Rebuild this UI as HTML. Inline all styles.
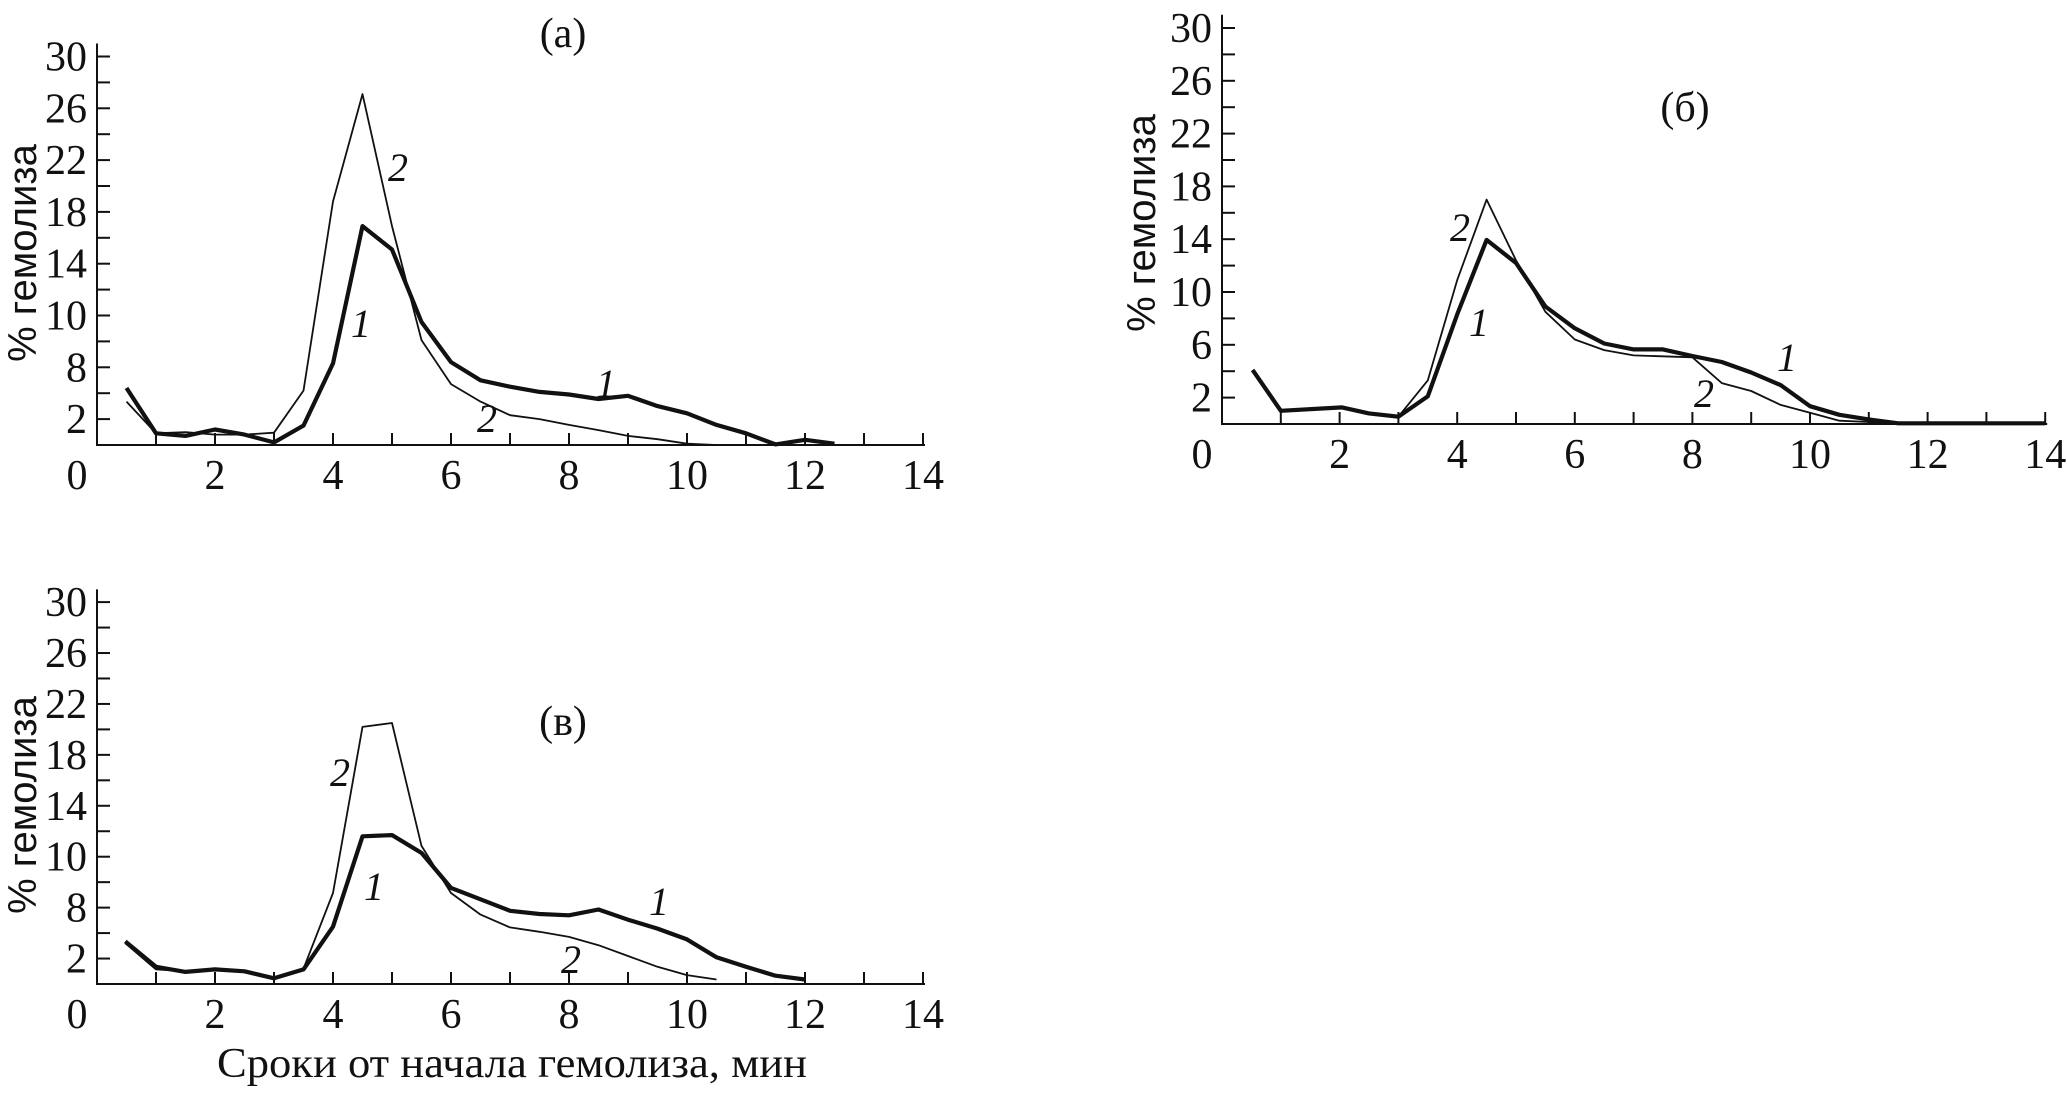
<!DOCTYPE html>
<html><head><meta charset="utf-8">
<style>
html,body{margin:0;padding:0;background:#fff;}
svg{display:block;}
text{font-family:"Liberation Serif",serif;fill:#111;}
.yt{font-family:"Liberation Sans",sans-serif;font-size:40px;}
</style></head>
<body>
<svg id="chart" width="2067" height="1112" viewBox="0 0 2067 1112" xmlns="http://www.w3.org/2000/svg"></svg>
<script>
// ---- data (x in minutes, y in % hemolysis) ----
const xTicks = [0,1,2,3,4,5,6,7,8,9,10,11,12,13,14];
const xTickLabels = ["0","2","4","6","8","10","12","14"];
const xTickLabelVals = [0,2,4,6,8,10,12,14];
const yTicks = [2,4,6,8,10,12,14,16,18,20,22,24,26,28,30];
const yLabelVals = [30,26,22,18,14,10,6,2];
const yLabelsA = ["30","26","22","18","14","10","8","2"];
const yLabelsB = ["30","26","22","18","14","10","6","2"];

const aX1 = [0.5,1,1.5,2,2.5,3,3.5,4,4.5,5,5.5,6,6.5,7,7.5,8,8.5,9,9.5,10,10.5,11,11.5,12,12.5];
const aY1 = [4.4,0.9,0.7,1.2,0.8,0.2,1.5,6.3,16.9,15.1,9.5,6.4,5.0,4.5,4.1,3.9,3.55,3.8,3.0,2.45,1.55,0.9,0.05,0.4,0.1];
const aX2 = [0.5,1,1.5,2,2.5,3,3.5,4,4.5,5,5.5,6,6.5,7,7.5,8,8.5,9,9.5,10,10.5];
const aY2 = [3.35,0.9,1.0,0.8,0.8,0.95,4.2,18.8,27.1,16.9,8.1,4.7,3.35,2.3,2.0,1.55,1.15,0.7,0.45,0.1,0];

const bX1 = [0.52,1,2.04,2.5,3,3.5,4,4.5,5,5.5,6,6.5,7,7.5,8,8.5,9,9.5,10,10.5,11,11.5,14];
const bY1 = [4.1,1.0,1.26,0.8,0.55,2.1,8.3,13.95,12.2,8.9,7.25,6.1,5.65,5.65,5.15,4.7,3.9,2.95,1.35,0.7,0.35,0.05,0.05];
const bX2 = [3,3.5,4,4.5,5,5.5,6,6.5,7,8,8.5,9,9.5,10,10.5,11,11.5];
const bY2 = [0.55,3.3,10.9,17.0,12.4,8.5,6.4,5.6,5.2,5.05,3.1,2.5,1.45,0.85,0.25,0.15,0];

const cX1 = [0.48,1,1.5,2,2.5,3,3.5,4,4.5,5,5.5,6,6.5,7,7.5,8,8.5,9,9.5,10,10.5,11,11.5,12];
const cY1 = [3.35,1.35,0.95,1.15,1.0,0.45,1.15,4.5,11.6,11.7,10.3,7.55,6.65,5.75,5.5,5.4,5.85,5.05,4.35,3.5,2.1,1.35,0.65,0.35];
const cX2 = [0.48,1,1.5,2,2.5,3,3.5,4,4.5,5,5.5,6,6.5,7,7.5,8,8.5,9,9.5,10,10.5];
const cY2 = [3.2,1.15,1.0,1.1,0.95,0.45,1.2,7.15,20.2,20.5,10.85,7.15,5.45,4.45,4.1,3.7,3.05,2.2,1.35,0.7,0.35];

const NS = "http://www.w3.org/2000/svg";
const svg = document.getElementById('chart');
function mk(tag, attrs, parent){const e=document.createElementNS(NS,tag);for(const k in attrs)e.setAttribute(k,attrs[k]);(parent||svg).appendChild(e);return e;}

function panel(id, x0, y0, ppx, ppy, yLabels, title, titlePos, ytitle, series, notes){
  const g = mk('g',{});
  
  
  const sx = v => x0 + v*ppx;
  const sy = v => y0 - v*ppy;
  const ax = mk('path',{d:`M${sx(0)},${sy(31)} L${sx(0)},${y0} L${sx(14)+2},${y0}`,stroke:'#111','stroke-width':2,fill:'none'},g);
  
  
  xTicks.forEach(t=>{
    const tk = mk('line',{x1:sx(t),x2:sx(t),y1:y0,y2:y0-12,stroke:'#111','stroke-width':2},g);
    
    
  });
  xTickLabelVals.forEach((v,i)=>{
    const t = mk('text',{x:v===0?sx(0)-20:sx(v),y:y0+44,'text-anchor':'middle','font-size':42},g);
    t.textContent = xTickLabels[i];
    
    
  });
  yTicks.forEach(t=>{
    const tk = mk('line',{x1:sx(0),x2:sx(0)+13,y1:sy(t),y2:sy(t),stroke:'#111','stroke-width':2},g);
    
    
  });
  yLabelVals.forEach((v,i)=>{
    const t = mk('text',{x:sx(0)-10,y:sy(v)+14,'text-anchor':'end','font-size':42},g);
    t.textContent = yLabels[i];
    
    
  });
  const yt = mk('text',{x:ytitle[0],y:ytitle[1],'text-anchor':'middle',class:'yt',transform:`rotate(-90 ${ytitle[0]} ${ytitle[1]})`,dy:14},g);
  yt.textContent = '% гемолиза';
  
  
  const tt = mk('text',{x:titlePos[0],y:titlePos[1]+14,'text-anchor':'middle','font-size':42},g);
  tt.textContent = title;
  
  
  series.forEach(s=>{
    const d = s.xs.map((v,i)=>(i?'L':'M')+sx(v).toFixed(1)+','+sy(s.ys[i]).toFixed(1)).join(' ');
    const p = mk('path',{d:d,stroke:'#111','stroke-width':s.w,fill:'none','stroke-linejoin':'round'},g);
    
    
  });
  notes.forEach(n=>{
    const t = mk('text',{x:n[1],y:n[2]+14,'text-anchor':'middle','font-size':40,'font-style':'italic'},g);
    t.textContent = n[0];
    
    
  });
}

panel('a', 97, 445, 59.0, 12.95, yLabelsA, '(а)', [563,33], [22,253],
  [{xs:aX2,ys:aY2,w:1.8,name:'series-2-line'},{xs:aX1,ys:aY1,w:4.2,name:'series-1-line'}],
  [['2',398,167],['1',361,323],['1',606,383],['2',487,418]]);
panel('b', 1222, 424, 58.8, 13.2, yLabelsB, '(б)', [1685,107], [1141,223],
  [{xs:bX2,ys:bY2,w:1.8,name:'series-2-line'},{xs:bX1,ys:bY1,w:4.2,name:'series-1-line'}],
  [['2',1460,227],['1',1479,322],['1',1787,357],['2',1704,393]]);
panel('c', 97, 984, 59.0, 12.73, yLabelsA, '(в)', [563,721], [22,805],
  [{xs:cX2,ys:cY2,w:1.8,name:'series-2-line'},{xs:cX1,ys:cY1,w:4.2,name:'series-1-line'}],
  [['2',340,772],['1',374,886],['1',659,901],['2',571,959]]);

const xt = mk('text',{x:512,y:1077,'text-anchor':'middle','font-size':42,textLength:590,lengthAdjust:'spacingAndGlyphs'});
xt.textContent = 'Сроки от начала гемолиза, мин';


</script>
</body></html>
